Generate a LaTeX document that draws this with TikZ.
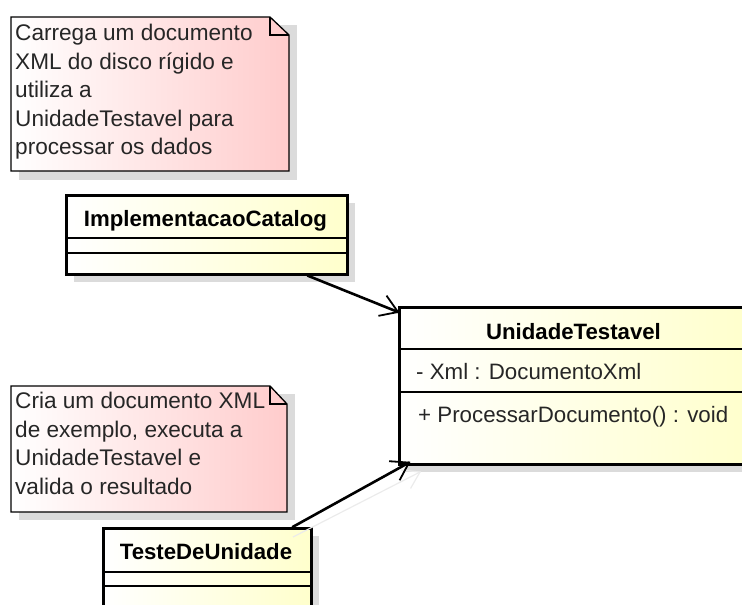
\documentclass[tikz,border=0pt]{standalone}
\usepackage{fontspec}
\setmainfont{Liberation Sans}
\usetikzlibrary{calc}

\tikzset{
  notetext/.style={inner sep=0pt, anchor=north west, align=left,
    font=\fontsize{22.6}{28.5}\selectfont, text=black!85},
  notebody/.style={left color=white, right color=red!20, draw=black, line width=1.3pt},
  classbox/.style={left color=white, right color=yellow!20, draw=black, line width=2.6pt,
    anchor=north west, inner sep=0pt},
  classname/.style={font=\fontsize{22.2}{24}\bfseries\selectfont, anchor=base, inner sep=0pt},
  member/.style={font=\fontsize{22.3}{24}\selectfont, anchor=base west, inner sep=0pt, text=black!85},
  divider/.style={line width=1.2pt},
  shadowfill/.style={fill=black!14},
  assoc/.style={line width=2.6pt, line cap=round},
  barb/.style={line width=1.8pt, line join=miter},
  ghost/.style={line width=1.2pt, draw=black!8},
}

\begin{document}
\begin{tikzpicture}[x=1pt, y=-1pt]
\useasboundingbox (0,0) rectangle (742,605);
\clip (0,0) rectangle (742,605);

% --- shadows ---
\fill[shadowfill] (19,25) rectangle (297,180);
\fill[shadowfill] (19,394) rectangle (295,520);
\fill[shadowfill] (74,203) rectangle (355,282);
\fill[shadowfill] (406,314) rectangle (760,472);
\fill[shadowfill] (111,536) rectangle (319,620);

% --- note 1 ---
\shade[notebody] (11,17) -- (270,17) -- (289,35) -- (289,171) -- (11,171) -- cycle;
\draw[line width=1.3pt] (270,17) -- (270,35) -- (289,35);
\node[notetext] (note1) at (15,24) {Carrega um documento\\XML do disco rígido e\\utiliza a\\UnidadeTestavel para\\processar os dados};

% --- note 2 ---
\shade[notebody] (11,386) -- (270,386) -- (287,404) -- (287,512) -- (11,512) -- cycle;
\draw[line width=1.3pt] (270,386) -- (270,404) -- (287,404);
\node[notetext] (note2) at (15,392) {Cria um documento XML\\de exemplo, executa a\\UnidadeTestavel e\\valida o resultado};

% --- class ImplementacaoCatalog ---
\node[classbox, minimum width=281pt, minimum height=79pt] (ic) at (65,194) {};
\draw[divider] (65,238) -- (346,238);
\draw[divider] (65,253) -- (346,253);
\node[classname] (icname) at (205.5,226.5) {ImplementacaoCatalog};

% --- class UnidadeTestavel ---
\node[classbox, minimum width=351pt, minimum height=157pt] (ut) at (398,306) {};
\draw[divider] (398,349) -- (749,349);
\draw[divider] (398,392) -- (749,392);
\node[classname] (utname) at (573.5,339.5) {UnidadeTestavel};
\node[member] (utattr) at (416,379.5) {- Xml : DocumentoXml};
\node[member] (utop) at (418,422.5) {+ ProcessarDocumento() : void};

% --- class TesteDeUnidade ---
\node[classbox, minimum width=208pt, minimum height=90pt] (tu) at (102,527) {};
\draw[divider] (102,572) -- (310,572);
\draw[divider] (102,586) -- (310,586);
\node[classname] (tuname) at (206,559.5) {TesteDeUnidade};

% --- association ends ---
\coordinate (s1) at ([xshift=-41pt]ic.south east);
\coordinate (t1) at ([yshift=-6pt]ut.north west);
\coordinate (s2) at ([xshift=-20pt]tu.north east);
\coordinate (t2) at ([xshift=11pt,yshift=3pt]ut.south west);
\coordinate (g1) at (293,537);
\coordinate (g2) at (420,472);

% faint trace under the lower association
\draw[ghost] (g1) -- (g2);
\draw[ghost] ($(g2)!19pt!33:(g1)$) -- (g2) -- ($(g2)!19pt!-33:(g1)$);

% --- associations with open arrowheads ---
\draw[assoc] (s1) -- (t1);
\draw[barb] ($(t1)!20pt!33:(s1)$) -- (t1) -- ($(t1)!20pt!-33:(s1)$);
\draw[assoc] (s2) -- (t2);
\draw[barb] ($(t2)!20pt!33:(s2)$) -- (t2) -- ($(t2)!20pt!-33:(s2)$);

\end{tikzpicture}
\end{document}
